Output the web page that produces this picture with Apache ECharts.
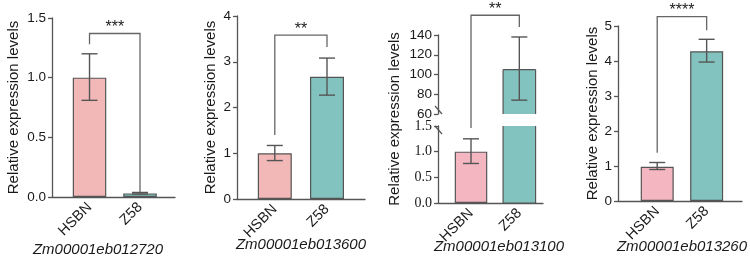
<!DOCTYPE html>
<html>
<head>
<meta charset="utf-8">
<script src="https://cdn.jsdelivr.net/npm/echarts@6/dist/echarts.min.js"></script>
<style>
html,body{margin:0;padding:0;background:#fff;}
#c{width:750px;height:265px;}
</style>
</head>
<body>
<div id="c"></div>
<script>
// ---------- data ----------
const categories = ['HSBN', 'Z58'];
const genes = ['Zm00001eb012720', 'Zm00001eb013600', 'Zm00001eb013100', 'Zm00001eb013260'];
const signif = ['***', '**', '**', '****'];

const means1 = [1.00, 0.03];
const low1 = [0.81, 0.025];
const high1 = [1.20, 0.038];

const means2 = [1.00, 2.67];
const low2 = [0.84, 2.27];
const high2 = [1.17, 3.08];

const means3 = [1.00, 105];
const low3 = [0.77, 74];
const high3 = [1.25, 138];

const means4 = [0.98, 4.28];
const low4 = [0.90, 3.97];
const high4 = [1.10, 4.62];

// bracket: [top, left leg end, right leg end]
const bracket1 = [1.37, 1.28, 0.04];
const bracket2 = [3.58, 1.40, 3.32];
const bracket3 = [160, 1.46, 148];   // left leg end is on the lower (broken) axis
const bracket4 = [5.27, 1.38, 4.88];

const yTicks1 = [0, 0.5, 1.0, 1.5];
const yTicks2 = [0, 1, 2, 3, 4];
const yTicks3Top = [60, 80, 100, 120, 140];
const yTicks3Low = [0, 0.5, 1.0, 1.5];
const yTicks4 = [0, 1, 2, 3, 4, 5];

// ---------- styles ----------
const AXIS = '#555';
const TXT = '#1a1a1a';
const SANS = '"Liberation Sans", Arial, sans-serif';
const SERIF = '"Liberation Serif", "Times New Roman", serif';
const pinkA = '#f2b8b7';
const pinkB = '#f4b6c0';
const teal = '#82c3bf';
const yName = 'Relative expression levels';
const NAME_FONT = 15;

const chart = echarts.init(document.getElementById('c'));

const grids = [], xAxes = [], yAxes = [], series = [];

function addAxes(grid, xr, yTicks, opt) {
  const gi = grids.length;
  grids.push(Object.assign({containLabel: false}, grid));
  xAxes.push({
    type: 'value', gridIndex: gi, min: xr[0], max: xr[1],
    show: opt.showX !== false,
    splitLine: {show: false},
    axisLine: {show: true, onZero: false, lineStyle: {color: AXIS, width: 1.3}},
    axisTick: {show: false},
    axisLabel: {
      show: true, customValues: [0, 1], rotate: 45, margin: 8,
      formatter: v => categories[Math.round(v)],
      color: TXT, fontSize: 14.5, fontFamily: SANS
    }
  });
  yAxes.push({
    type: 'value', gridIndex: gi,
    min: yTicks[0], max: yTicks[yTicks.length - 1],
    interval: yTicks[1] - yTicks[0],
    splitLine: {show: false},
    axisLine: {show: true, onZero: false, lineStyle: {color: AXIS, width: 1.3}},
    axisTick: {show: true, length: 4, lineStyle: {color: AXIS, width: 1.3}},
    axisLabel: {
      margin: 6, color: TXT, fontSize: opt.tickFont || 13.5, fontFamily: opt.tickFamily || SANS,
      formatter: opt.fmt
    },
    name: opt.name || '', nameLocation: 'middle', nameGap: opt.nameGap || 20,
    nameTextStyle: {color: TXT, fontSize: NAME_FONT, fontFamily: SANS}
  });
  return gi;
}

function barSeries(gi, means, colors, bw, noBorder) {
  series.push({
    type: 'bar', xAxisIndex: gi, yAxisIndex: gi, barWidth: bw, clip: true,
    data: categories.map((c, k) => means[k] === null ? '-' : ({
      value: [k, means[k]],
      itemStyle: {color: colors[k], borderColor: AXIS, borderWidth: (noBorder && noBorder[k]) ? 0 : 1.2}
    })),
    animation: false
  });
}

// side outlines for a bar that is cut by the axis break (no border along the cut)
function cutOutline(gi, k, value, bw, drawTop, drawBottom) {
  series.push({
    type: 'custom', xAxisIndex: gi, yAxisIndex: gi, clip: true, z: 4,
    data: [[k, value]],
    renderItem: function (params, api) {
      const cs = params.coordSys;
      const top = Math.max(api.coord([api.value(0), api.value(1)])[1], cs.y);
      const bottom = cs.y + cs.height;
      const cx = api.coord([api.value(0), 0])[0];
      const l = cx - bw / 2, r = cx + bw / 2;
      const st = {stroke: AXIS, lineWidth: 1.2};
      const ch = [
        {type: 'line', shape: {x1: l, y1: top, x2: l, y2: bottom}, style: st},
        {type: 'line', shape: {x1: r, y1: top, x2: r, y2: bottom}, style: st}
      ];
      if (drawTop) ch.push({type: 'line', shape: {x1: l, y1: top, x2: r, y2: top}, style: st});
      if (drawBottom) ch.push({type: 'line', shape: {x1: l, y1: bottom, x2: r, y2: bottom}, style: st});
      return {type: 'group', children: ch};
    },
    animation: false
  });
}

function errSeries(gi, idx, lows, highs) {
  series.push({
    type: 'custom', xAxisIndex: gi, yAxisIndex: gi, clip: false, z: 5,
    data: idx.map(k => [k, lows[k], highs[k]]),
    renderItem: function (params, api) {
      const x = api.value(0);
      const a = api.coord([x, api.value(1)]);
      const b = api.coord([x, api.value(2)]);
      const cw = 8;
      const st = {stroke: AXIS, lineWidth: 1.4};
      return {type: 'group', children: [
        {type: 'line', shape: {x1: a[0], y1: a[1], x2: b[0], y2: b[1]}, style: st},
        {type: 'line', shape: {x1: a[0] - cw, y1: a[1], x2: a[0] + cw, y2: a[1]}, style: st},
        {type: 'line', shape: {x1: b[0] - cw, y1: b[1], x2: b[0] + cw, y2: b[1]}, style: st}
      ]};
    },
    animation: false
  });
}

function bracketSeries(gi, br, sig, leftAxisIdx) {
  series.push({
    type: 'custom', xAxisIndex: gi, yAxisIndex: gi, clip: false, z: 6,
    data: [[0, 1, br[0], br[1], br[2]]],
    renderItem: function (params, api) {
      const tl = api.coord([api.value(0), api.value(2)]);
      const tr = api.coord([api.value(1), api.value(2)]);
      let lb = api.coord([api.value(0), api.value(3)]);
      if (leftAxisIdx !== undefined) {
        const py = chart.convertToPixel({yAxisIndex: leftAxisIdx}, api.value(3));
        lb = [tl[0], py];
      }
      const rb = api.coord([api.value(1), api.value(4)]);
      const st = {stroke: '#666', lineWidth: 1.3};
      return {type: 'group', children: [
        {type: 'polyline', shape: {points: [lb, tl, tr, rb]}, style: Object.assign({fill: null}, st)},
        {type: 'text', x: (tl[0] + tr[0]) / 2, y: tl[1] + 2,
          style: {text: sig, fill: TXT, font: '16px ' + SANS, align: 'center', verticalAlign: 'bottom'}}
      ]};
    },
    animation: false
  });
}

const fmt1 = v => v.toFixed(1);
const fmt0 = v => String(Math.round(v));

// Panel 1
let g = addAxes({left: 52, top: 18, width: 123, height: 179}, [-0.743, 1.693], yTicks1, {fmt: fmt1, name: yName, nameGap: 31});
barSeries(g, means1, [pinkA, teal], 33.5);
errSeries(g, [0, 1], low1, high1);
bracketSeries(g, bracket1, signif[0]);

// Panel 2
g = addAxes({left: 237, top: 16, width: 128, height: 183}, [-0.724, 1.728], yTicks2, {fmt: fmt0, name: yName, nameGap: 19});
barSeries(g, means2, [pinkA, teal], 34);
errSeries(g, [0, 1], low2, high2);
bracketSeries(g, bracket2, signif[1]);

// Panel 3 (broken axis): lower part, upper part, and a name-only axis spanning both
const gLow = addAxes({left: 438, top: 126, width: 105, height: 77}, [-0.683, 1.49], yTicks3Low,
  {fmt: fmt1, tickFamily: SERIF, tickFont: 14});
const gTop = addAxes({left: 438, top: 35, width: 105, height: 79}, [-0.683, 1.49], yTicks3Top,
  {fmt: fmt0, showX: false});
const gName = addAxes({left: 438, top: 35, width: 105, height: 168}, [-0.683, 1.49], [0, 1],
  {fmt: fmt0, showX: false, name: yName, nameGap: 36});
yAxes[gName].axisLine.show = false;
yAxes[gName].axisTick.show = false;
yAxes[gName].axisLabel.show = false;
barSeries(gLow, means3, [pinkB, teal], 32.5, [false, true]);
barSeries(gTop, [null, means3[1]], [pinkB, teal], 32.5, [false, true]);
cutOutline(gLow, 1, means3[1], 32.5, false, true);
cutOutline(gTop, 1, means3[1], 32.5, true, false);
errSeries(gLow, [0], low3, high3);
errSeries(gTop, [1], low3, high3);
bracketSeries(gTop, bracket3, signif[2], gLow);
// break marks on the y axis
[[gTop, 'bottom'], [gLow, 'top']].forEach(([gi, edge]) => {
  series.push({
    type: 'custom', xAxisIndex: gi, yAxisIndex: gi, clip: false, z: 7,
    data: [[0]],
    renderItem: function (params) {
      const cs = params.coordSys;
      const x = cs.x, y = edge === 'bottom' ? cs.y + cs.height - 4 : cs.y + 4;
      return {type: 'line', shape: {x1: x - 3, y1: y - 4, x2: x + 4, y2: y + 4},
        style: {stroke: AXIS, lineWidth: 1.2}};
    },
    animation: false
  });
});

// Panel 4
g = addAxes({left: 618, top: 26, width: 124, height: 175}, [-0.793, 1.715], yTicks4, {fmt: fmt0, name: yName, nameGap: 17});
barSeries(g, means4, [pinkB, teal], 33);
errSeries(g, [0, 1], low4, high4);
bracketSeries(g, bracket4, signif[3]);

// gene names
const geneX = [98, 301, 499, 682];
const geneY = [250, 245, 247, 247];
const graphics = genes.map((t, i) => ({
  type: 'text', x: geneX[i], y: geneY[i], silent: true,
  style: {text: t, fill: TXT, font: 'italic 15px ' + SANS, align: 'center', verticalAlign: 'middle'}
}));

chart.setOption({
  backgroundColor: '#fff',
  animation: false,
  grid: grids,
  xAxis: xAxes,
  yAxis: yAxes,
  series: series,
  graphic: graphics
});
</script>
</body>
</html>
